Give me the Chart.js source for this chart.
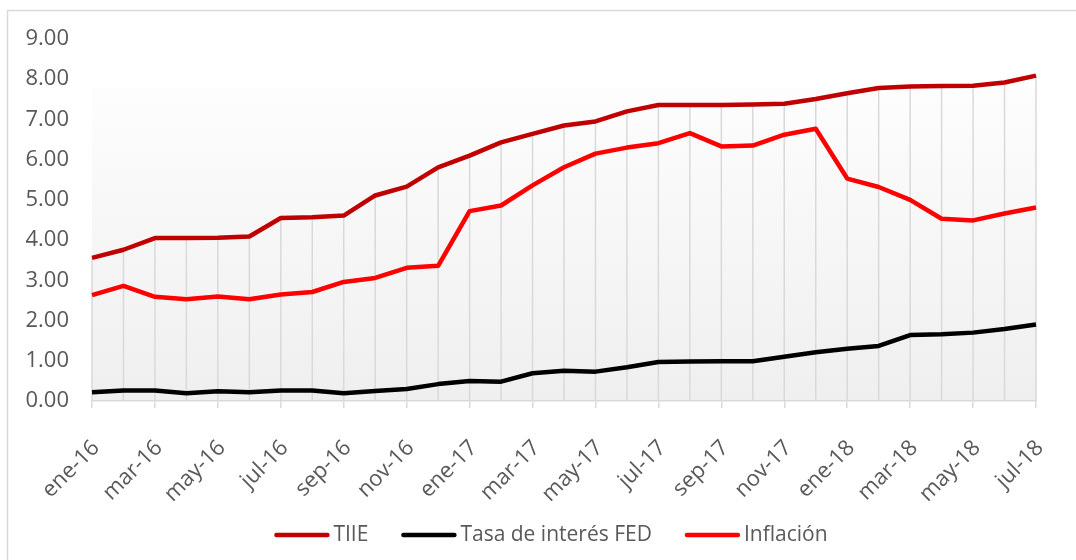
<!DOCTYPE html>
<html>
<head>
<meta charset="utf-8">
<script src="https://cdn.jsdelivr.net/npm/chart.js@4"></script>
<style>
  html, body { margin: 0; padding: 0; background: #ffffff; }
  #wrap { width: 1076px; height: 560px; }
</style>
</head>
<body>
<div id="wrap"><canvas id="rateChart" width="1076" height="560"></canvas></div>
<script>
// Monthly labels, ene-16 .. jul-18
const months = [
  'ene-16', 'feb-16', 'mar-16', 'abr-16', 'may-16', 'jun-16', 'jul-16', 'ago-16', 'sep-16', 'oct-16', 'nov-16', 'dic-16',
  'ene-17', 'feb-17', 'mar-17', 'abr-17', 'may-17', 'jun-17', 'jul-17', 'ago-17', 'sep-17', 'oct-17', 'nov-17', 'dic-17',
  'ene-18', 'feb-18', 'mar-18', 'abr-18', 'may-18', 'jun-18', 'jul-18'
];

const tiie = [3.56, 3.76, 4.05, 4.05, 4.06, 4.09, 4.55, 4.57, 4.61, 5.11, 5.33, 5.81,
  6.10, 6.43, 6.64, 6.85, 6.95, 7.20, 7.36, 7.36, 7.36, 7.37, 7.39, 7.51,
  7.65, 7.78, 7.82, 7.83, 7.84, 7.92, 8.09];

const fedRate = [0.22, 0.26, 0.26, 0.19, 0.24, 0.22, 0.26, 0.26, 0.19, 0.25, 0.30, 0.42,
  0.50, 0.48, 0.69, 0.75, 0.73, 0.84, 0.97, 0.98, 0.99, 0.99, 1.10, 1.21,
  1.30, 1.37, 1.64, 1.66, 1.70, 1.79, 1.90];

const inflacion = [2.63, 2.86, 2.59, 2.53, 2.60, 2.53, 2.65, 2.71, 2.96, 3.06, 3.31, 3.36,
  4.72, 4.86, 5.36, 5.81, 6.15, 6.30, 6.41, 6.66, 6.33, 6.35, 6.62, 6.77,
  5.53, 5.32, 5.00, 4.53, 4.49, 4.66, 4.81];

const yTicks = [0, 1, 2, 3, 4, 5, 6, 7, 8, 9];

const FONT = '"Open Sans", "Liberation Sans", sans-serif';
const TEXT_GRAY = '#595959';
const LINE_GRAY = '#d9d9d9';

// plot area gradient + outer chart border
const backdrop = {
  id: 'backdrop',
  beforeDraw(chart) {
    const { ctx, chartArea: a } = chart;
    ctx.save();
    ctx.strokeStyle = LINE_GRAY;
    ctx.lineWidth = 1.5;
    ctx.strokeRect(7.5, 10.5, 1200, 700);
    const top = a.top + (a.bottom - a.top) * 0.135;
    const g = ctx.createLinearGradient(0, top, 0, a.bottom);
    g.addColorStop(0, '#fdfdfd');
    g.addColorStop(1, '#efefef');
    ctx.fillStyle = g;
    ctx.fillRect(a.left, top, a.right - a.left, a.bottom - top);
    ctx.restore();
  }
};

// drop lines from the highest series (TIIE) down to the axis
const dropLines = {
  id: 'dropLines',
  beforeDatasetsDraw(chart) {
    const { ctx } = chart;
    const meta = chart.getDatasetMeta(0);
    const bottom = chart.scales.y.getPixelForValue(0);
    ctx.save();
    ctx.strokeStyle = LINE_GRAY;
    ctx.lineWidth = 1.5;
    meta.data.forEach(pt => {
      ctx.beginPath();
      ctx.moveTo(pt.x, pt.y);
      ctx.lineTo(pt.x, bottom);
      ctx.stroke();
    });
    ctx.restore();
  }
};

// Excel-style legend: line sample, small gap, label
const lineLegend = {
  id: 'lineLegend',
  afterDraw(chart) {
    const { ctx } = chart;
    const sw = 55, gap = 4, itemGap = 33, cy = 535, cx = 551;
    ctx.save();
    ctx.font = '21px ' + FONT;
    ctx.textBaseline = 'middle';
    ctx.textAlign = 'left';
    const items = chart.data.datasets.map(ds => ({ ds, w: ctx.measureText(ds.label).width }));
    const total = items.reduce((s, it) => s + sw + gap + it.w, 0) + itemGap * (items.length - 1);
    let x = cx - total / 2;
    items.forEach(({ ds, w }) => {
      ctx.strokeStyle = ds.borderColor;
      ctx.lineWidth = 4.5;
      ctx.lineCap = 'round';
      ctx.beginPath();
      ctx.moveTo(x + 2, cy);
      ctx.lineTo(x + sw - 2, cy);
      ctx.stroke();
      ctx.fillStyle = TEXT_GRAY;
      ctx.fillText(ds.label, x + sw + gap, cy);
      x += sw + gap + w + itemGap;
    });
    ctx.restore();
  }
};

const lineStyle = { borderWidth: 4.5, pointRadius: 0, tension: 0, borderJoinStyle: 'round', fill: false };

new Chart(document.getElementById('rateChart'), {
  type: 'line',
  data: {
    labels: months,
    datasets: [
      { label: 'TIIE', data: tiie, borderColor: '#c00000', backgroundColor: '#c00000', ...lineStyle },
      { label: 'Tasa de interés FED', data: fedRate, borderColor: '#000000', backgroundColor: '#000000', ...lineStyle },
      { label: 'Inflación', data: inflacion, borderColor: '#ff0000', backgroundColor: '#ff0000', ...lineStyle }
    ]
  },
  options: {
    responsive: false,
    animation: false,
    layout: { padding: { left: 0, right: 40, top: 39, bottom: 59 } },
    plugins: {
      title: { display: false },
      tooltip: { enabled: false },
      legend: { display: false }
    },
    scales: {
      x: {
        offset: false,
        afterFit(scale) {
          scale.height = 100;
          scale.paddingLeft = 0;
          scale.paddingRight = 0;
        },
        grid: {
          drawOnChartArea: false,
          drawTicks: true,
          tickLength: 7,
          lineWidth: 1.5,
          color: (c) => (c.index % 2 === 0 ? LINE_GRAY : 'rgba(0,0,0,0)')
        },
        border: { display: true, color: LINE_GRAY, width: 1.5 },
        ticks: {
          autoSkip: false,
          minRotation: 45,
          maxRotation: 45,
          padding: 27,
          labelOffset: 4,
          color: TEXT_GRAY,
          font: { family: FONT, size: 22 },
          callback: function(val, index) {
            return index % 2 === 0 ? this.getLabelForValue(val) : '';
          }
        }
      },
      y: {
        min: 0,
        max: 9,
        afterFit(scale) { scale.width = 92; },
        afterBuildTicks(scale) { scale.ticks = yTicks.map(v => ({ value: v })); },
        grid: { display: false, drawTicks: false },
        border: { display: false },
        ticks: {
          padding: 23,
          color: TEXT_GRAY,
          font: { family: FONT, size: 22 },
          callback: (v) => v.toFixed(2)
        }
      }
    }
  },
  plugins: [backdrop, dropLines, lineLegend]
});
</script>
</body>
</html>
